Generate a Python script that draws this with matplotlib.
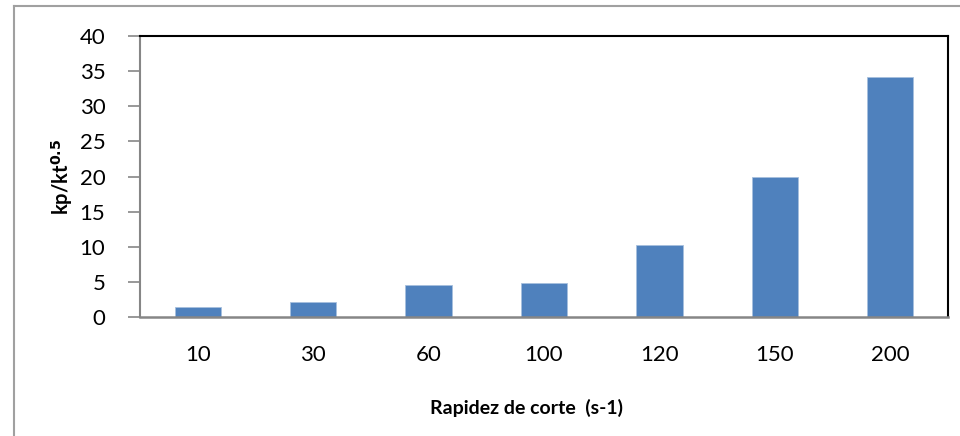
import numpy as np
import matplotlib.pyplot as plt
from matplotlib.lines import Line2D

# data
shear_rates = ['10', '30', '60', '100', '120', '150', '200']
kp_kt = [1.4, 2.2, 4.6, 4.9, 10.3, 19.9, 34.1]

plt.rcParams['font.family'] = ['Lato', 'DejaVu Sans']

fig = plt.figure(figsize=(9.6, 4.36), dpi=100)
ax = fig.add_axes([140/960, 1-317/436, (948-140)/960, (317-36)/436])

x = np.arange(len(shear_rates))
ax.bar(x, kp_kt, width=0.4, color='#4F81BD', edgecolor='#A7C0DE', linewidth=0.6, zorder=2)

ax.set_xlim(-0.5, len(shear_rates) - 0.5)
ax.set_ylim(0, 40)
ax.set_yticks(np.arange(0, 41, 5))
ax.set_xticks(x)
ax.set_xticklabels(shear_rates)

ax.tick_params(axis='y', direction='out', length=9, width=1.2, color='#868686',
               labelsize=16, pad=16)
ax.tick_params(axis='x', length=0, labelsize=16, pad=20)

ax.spines['left'].set_color('#868686')
ax.spines['bottom'].set_color('#868686')
ax.spines['left'].set_linewidth(1.5)
ax.spines['bottom'].set_linewidth(1.8)
ax.spines['top'].set_color('black')
ax.spines['right'].set_color('black')
ax.spines['top'].set_linewidth(1.5)
ax.spines['right'].set_linewidth(1.5)

fig.text(526/960, 1-408/436, 'Rapidez de corte  (s-1)', fontsize=14,
         fontweight='bold', ha='center', va='center')
fig.text(62/960, 1-177/436, r'kp/kt$^{\mathbf{0.5}}$', fontsize=14.5,
         fontweight='bold', rotation=90, ha='center', va='center')

# outer chart border (left and top visible)
fig.add_artist(Line2D([14/960, 14/960], [0, 1-6/436], transform=fig.transFigure,
                      color='#A0A0A0', linewidth=1.5))
fig.add_artist(Line2D([14/960, 1], [1-6/436, 1-6/436], transform=fig.transFigure,
                      color='#A0A0A0', linewidth=1.5))

fig.savefig('out.png', dpi=100)
